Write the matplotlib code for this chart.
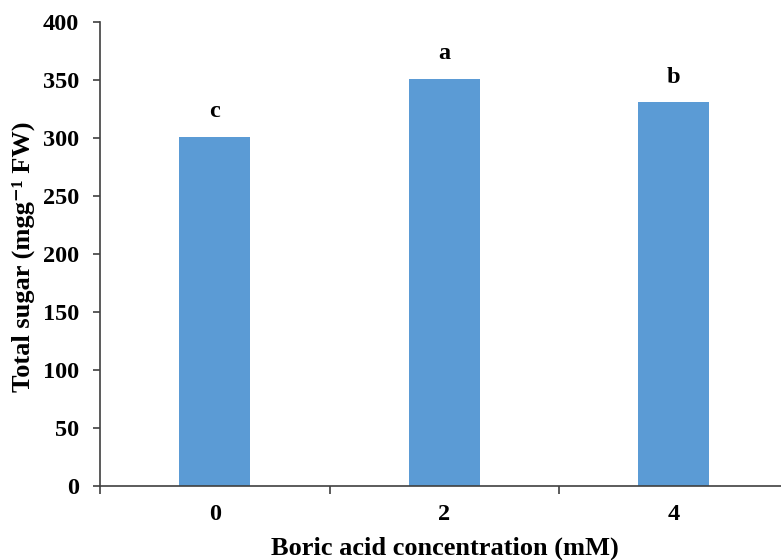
import matplotlib
matplotlib.use("Agg")
import matplotlib.pyplot as plt

categories = ["0", "2", "4"]
values = [301, 351, 331]
letters = ["c", "a", "b"]
yticks = [0, 50, 100, 150, 200, 250, 300, 350, 400]

plt.rcParams['font.family'] = ['Liberation Serif', 'DejaVu Serif']
plt.rcParams['font.weight'] = 'bold'

W, H = 781, 560
fig = plt.figure(figsize=(W/100, H/100), dpi=100)
x0, x1 = 100, 788.5
y0, y1 = 486, 22
ax = fig.add_axes([x0/W, 1 - y0/H, (x1 - x0)/W, (y0 - y1)/H])

pos = list(range(len(categories)))
ax.bar(pos, values, width=0.31, color='#5B9BD5', zorder=2)
for p, v, l in zip(pos, values, letters):
    ax.annotate(l, (p, v), xytext=(0, 14), textcoords='offset points',
                ha='center', va='baseline', fontsize=17.5, fontweight='bold')

ax.set_xlim(-0.5, len(categories) - 0.5)
ax.set_ylim(0, 400)
ax.set_yticks(yticks)
ax.set_yticklabels([str(t) for t in yticks], fontsize=17.5, fontweight='bold')
ax.set_xticks(pos)
ax.set_xticklabels(categories, fontsize=17.5, fontweight='bold')
ax.set_xticks([i - 0.5 for i in range(len(categories) + 1)], minor=True)
ax.tick_params(axis='x', which='major', length=0, pad=13)
ax.tick_params(axis='x', which='minor', length=6, width=1.2, color='#404040')
ax.tick_params(axis='y', length=5, width=1.2, color='#404040', pad=10)

for s in ['top', 'right']:
    ax.spines[s].set_visible(False)
for s in ['left', 'bottom']:
    ax.spines[s].set_color('#404040')
    ax.spines[s].set_linewidth(1.2)

ax.set_xlabel('Boric acid concentration (mM)', fontsize=19, fontweight='bold')
ax.xaxis.set_label_coords((445 - x0)/(x1 - x0), -(548 - y0)/(y0 - y1))
ax.xaxis.label.set_va('center')
ax.set_ylabel('Total sugar (mgg\u207b\u00b9 FW)', fontsize=19, fontweight='bold')
ax.yaxis.set_label_coords(-(x0 - 23)/(x1 - x0), (y0 - 257)/(y0 - y1))
ax.yaxis.label.set_va('center')

fig.savefig('out.png', dpi=100)
